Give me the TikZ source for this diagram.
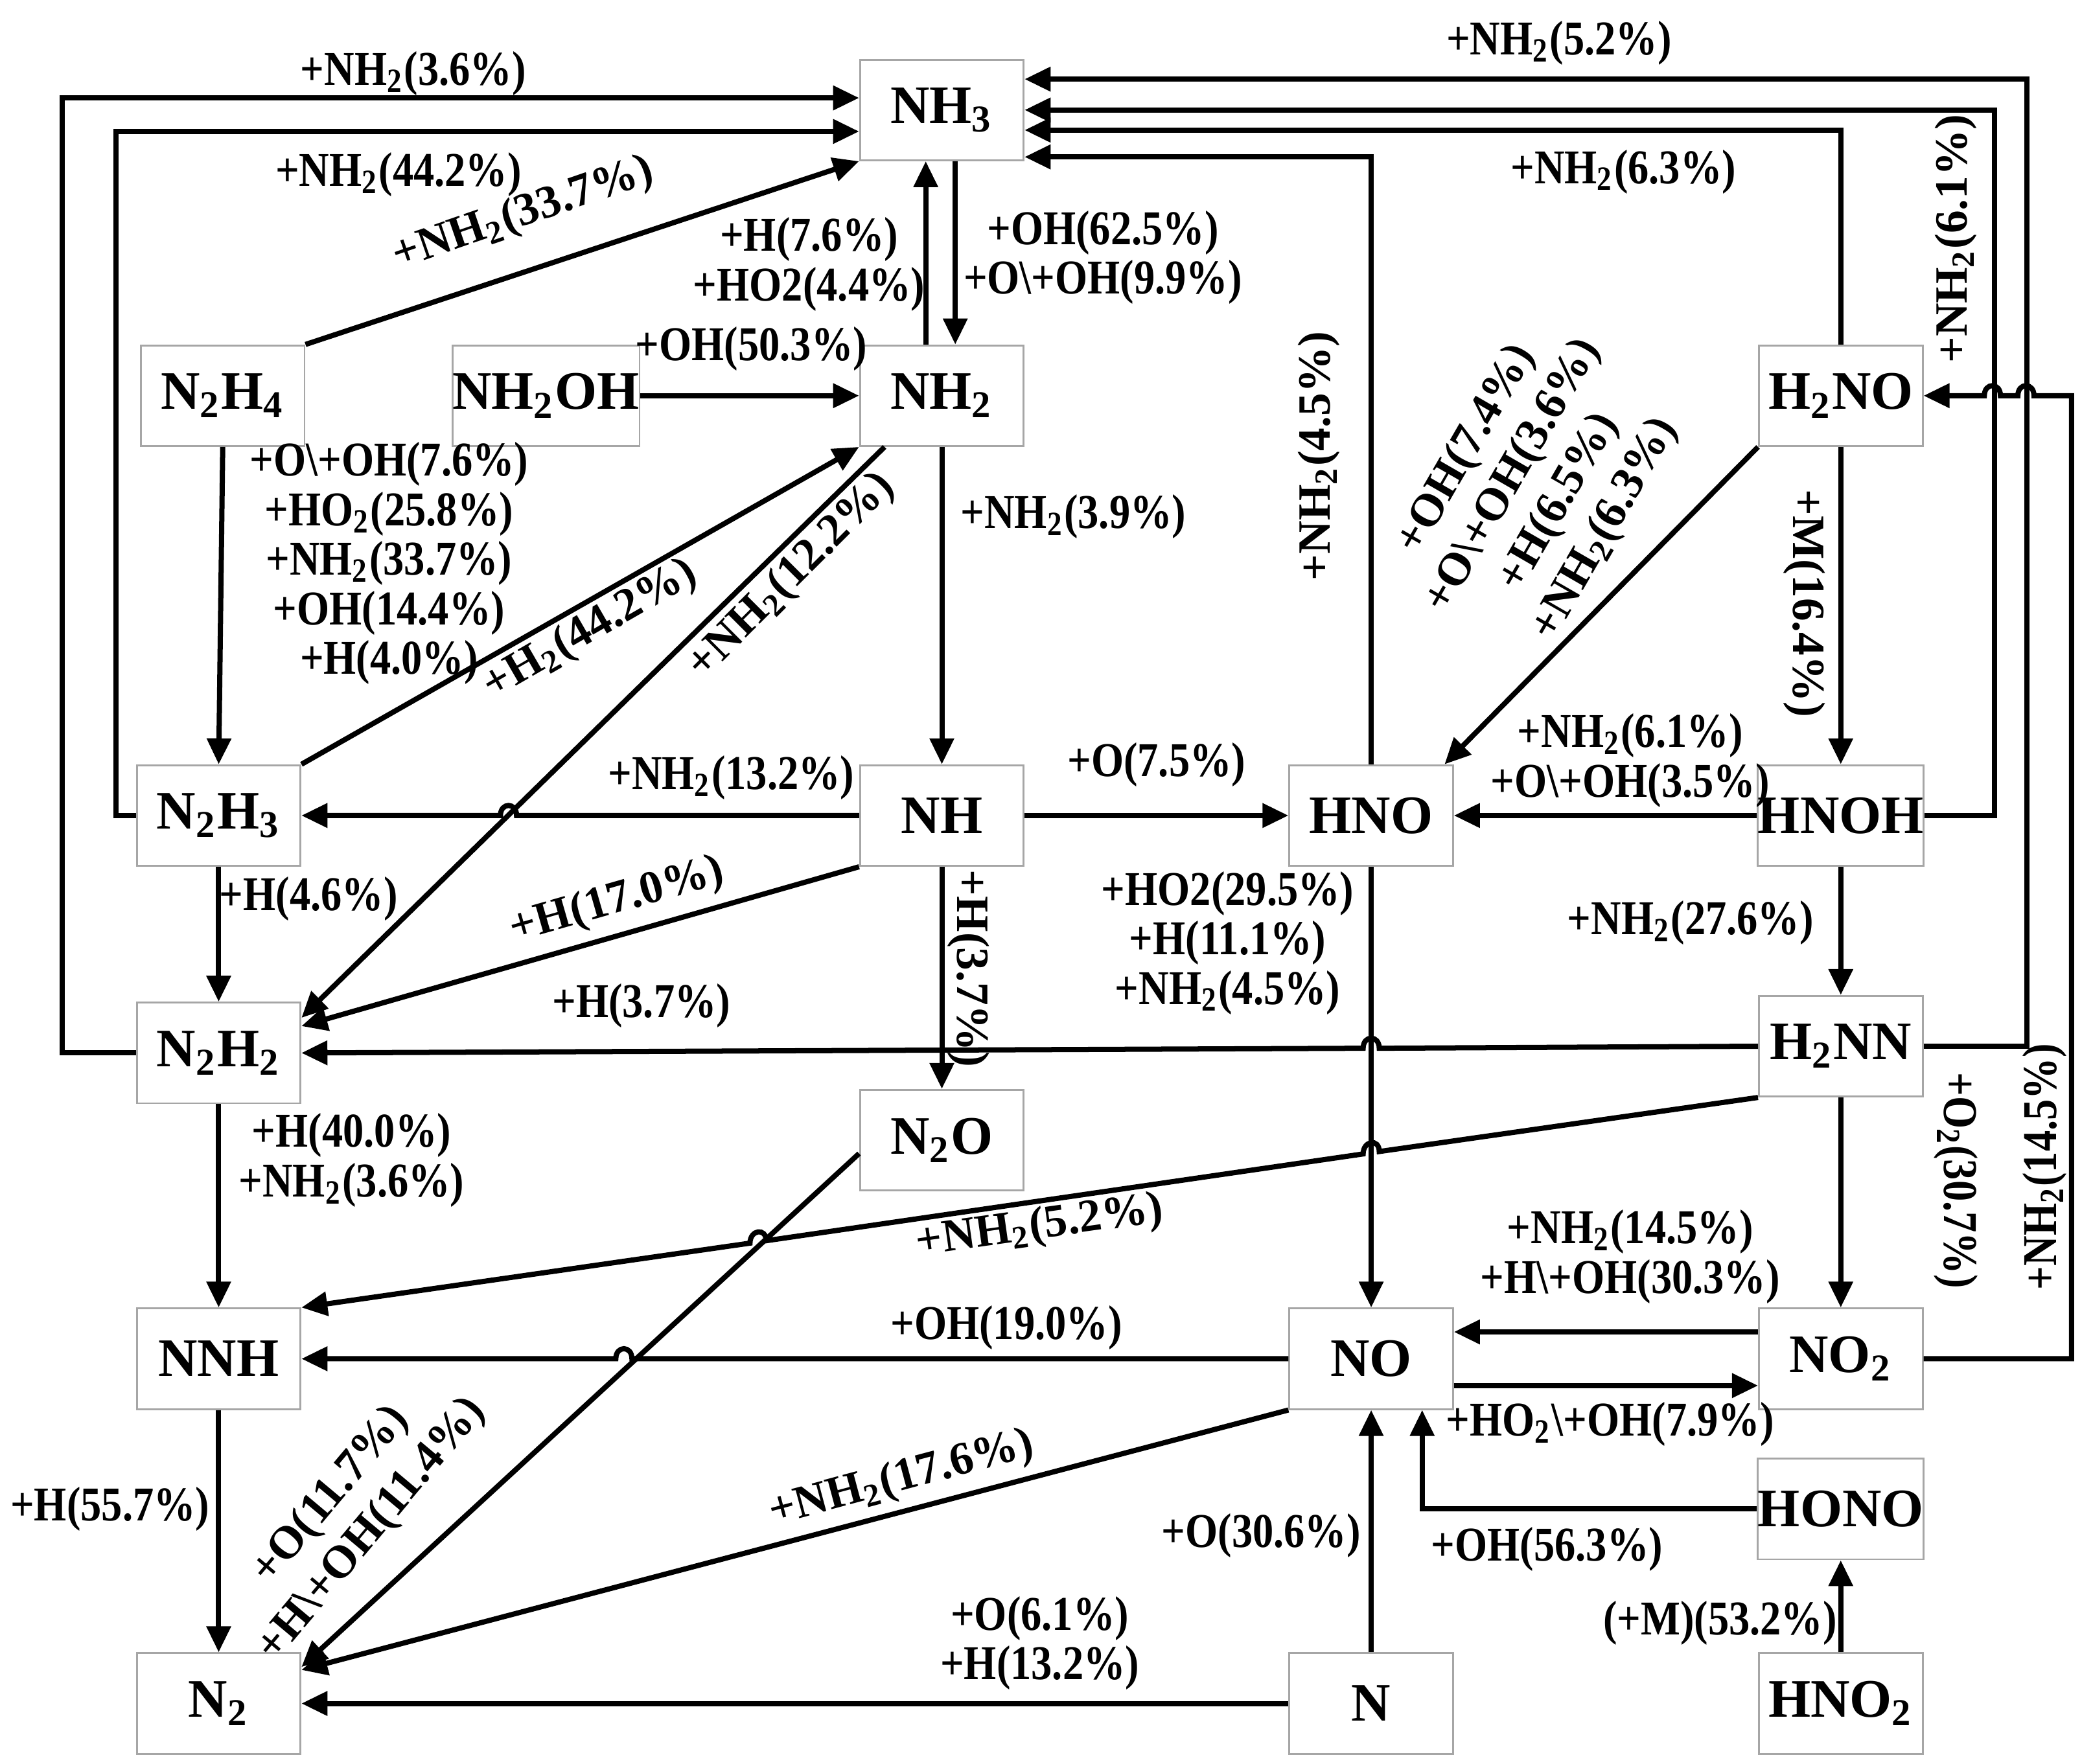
\documentclass[tikz,border=0pt]{standalone}
\usepackage{fontspec}
\setmainfont{Liberation Serif}
\newfontfamily\labfont{Liberation Serif}[FakeStretch=0.86]
\usetikzlibrary{arrows.meta}
\newcommand\sbs[1]{\textsubscript{#1}}
\begin{document}
\begin{tikzpicture}[x=0.1mm,y=-0.1mm,
 box/.style={draw=gray!70,line width=0.4pt,minimum width=12.2mm,minimum height=7.5mm,inner sep=0,font=\fontsize{11.5}{13}\selectfont\bfseries},
 lab/.style={font=\labfont\fontsize{10.3}{10.5}\selectfont\bfseries,align=center,inner sep=0},
 rlab/.style={font=\fontsize{9.8}{11.3}\selectfont\bfseries,align=center,inner sep=0},
 ln/.style={line width=1.1pt},
 arr/.style={line width=1.1pt,-{Triangle[length=5.5pt,width=5pt]}}]
\useasboundingbox (0,0) rectangle (1560,1315);
% nodes
\node[box] (NH3) at (702,82) {NH\sbs{3}};
\node[box] (N2H4) at (166,295) {N\sbs{2}H\sbs{4}};
\node[box,minimum width=13.9mm] (NH2OH) at (407,295) {NH\sbs{2}OH};
\node[box] (NH2) at (702,295) {NH\sbs{2}};
\node[box] (H2NO) at (1372,295) {H\sbs{2}NO};
\node[box] (N2H3) at (163,608) {N\sbs{2}H\sbs{3}};
\node[box] (NH) at (702,608) {NH};
\node[box] (HNO) at (1022,608) {HNO};
\node[box] (HNOH) at (1372,608) {HNOH};
\node[box] (N2H2) at (163,785) {N\sbs{2}H\sbs{2}};
\node[box] (H2NN) at (1372,780) {H\sbs{2}NN};
\node[box] (N2O) at (702,850) {N\sbs{2}O};
\node[box] (NNH) at (163,1013) {NNH};
\node[box] (NO) at (1022,1013) {NO};
\node[box] (NO2) at (1372,1013) {NO\sbs{2}};
\node[box] (HONO) at (1372,1125) {HONO};
\node[box] (N2) at (163,1270) {N\sbs{2}};
\node[box] (N) at (1022,1270) {N};
\node[box] (HNO2) at (1372,1270) {HNO\sbs{2}};
% connectors
\draw[arr] (N2H3.west) -- ++(-15,0) |- ([yshift=-1.6mm]NH3.west);
\draw[arr] (N2H2.west) -- ++(-55,0) |- ([yshift=0.9mm]NH3.west);
\draw[arr] (N2H4.north east) -- (NH3.south west);
\draw[arr] ([xshift=-1.2mm]NH2.north) -- ([xshift=-1.2mm]NH3.south);
\draw[arr] ([xshift=1mm]NH3.south) -- ([xshift=1mm]NH2.north);
\draw[arr] (NH2OH.east) -- (NH2.west);
\draw[arr] (N2H4.south) -- (N2H3.north);
\draw[arr] (N2H3.north east) -- (NH2.south west);
\draw[arr] ([xshift=1.9mm]NH2.south west) -- ([yshift=-1.2mm]N2H2.north east);
\draw[arr] (NH2.south) -- (NH.north);
\draw[arr] (NH.west) -- (385,608) .. controls (385,598) and (373,598) .. (373,608) -- (N2H3.east);
\draw[arr] (NH.south west) -- ([yshift=2mm]N2H2.east);
\draw[arr] (NH.south) -- (N2O.north);
\draw[arr] (NH.east) -- (HNO.west);
\draw[arr] (N2H3.south) -- (N2H2.north);
\draw[arr] (H2NN.west) -- (1028,781.5) .. controls (1028,771.5) and (1016,771.5) .. (1016,781.5) -- (N2H2.east);
\draw[arr] (N2H2.south) -- (NNH.north);
\draw[arr] (H2NN.south west) -- (1028,858.5) .. controls (1028,848.5) and (1016,850.3) .. (1016,860.3) -- (571,925) .. controls (571,915) and (559,916.8) .. (559,926.8) -- (NNH.north east);
\draw[arr] ([yshift=-1mm]N2O.west) -- ([yshift=-1.1mm]N2.north east);
\draw[arr] (NNH.south) -- (N2.north);
\draw[arr] (NO.west) -- (471,1013) .. controls (471,1003) and (459,1003) .. (459,1013) -- (NNH.east);
\draw[arr] (NO.south west) -- ([yshift=2.5mm]N2.east);
\draw[arr] (N.west) -- (N2.east);
\draw[arr] (N.north) -- (NO.south);
\draw[arr] (HNO.south) -- (NO.north);
\draw[arr] (HNO.north) |- ([yshift=-3.5mm]NH3.east);
\draw[arr] (H2NO.north) |- ([yshift=-1.5mm]NH3.east);
\draw[arr] (HNOH.east) -- ++(52,0) |- (NH3.east);
\draw[arr] (H2NN.east) -- ++(77,0) |- ([yshift=2.3mm]NH3.east);
\draw[arr] (NO2.east) -| (1544,295) -- (1516,295) .. controls (1516,285) and (1504,285) .. (1504,295) -- (1491,295) .. controls (1491,285) and (1479,285) .. (1479,295) -- (H2NO.east);
\draw[arr] (H2NO.south west) -- ([xshift=-0.7mm]HNO.north east);
\draw[arr] (H2NO.south) -- (HNOH.north);
\draw[arr] (HNOH.west) -- (HNO.east);
\draw[arr] (HNOH.south) -- (H2NN.north);
\draw[arr] (H2NN.south) -- (NO2.north);
\draw[arr] ([yshift=2mm]NO2.west) -- ([yshift=2mm]NO.east);
\draw[arr] ([yshift=-2mm]NO.east) -- ([yshift=-2mm]NO2.west);
\draw[arr] (HONO.west) -| ([xshift=3.8mm]NO.south);
\draw[arr] (HNO2.north) -- (HONO.south);
% labels
\node[lab] (l1) at (308,55) {+NH\sbs{2}(3.6\%)};
\node[lab] (l2) at (297,130) {+NH\sbs{2}(44.2\%)};
\node[rlab,rotate=19] (l3) at (390,160) {+NH\sbs{2}(33.7\%)};
\node[lab] (l4) at (603,197) {+H(7.6\%)\\+HO2(4.4\%)};
\node[lab] (l5) at (822,192) {+OH(62.5\%)\\+O\textbackslash+OH(9.9\%)};
\node[lab] (l6) at (560,260) {+OH(50.3\%)};
\node[lab] (l7) at (290,420) {+O\textbackslash+OH(7.6\%)\\+HO\sbs{2}(25.8\%)\\+NH\sbs{2}(33.7\%)\\+OH(14.4\%)\\+H(4.0\%)};
\node[rlab,rotate=30] (l8) at (440,470) {+H\sbs{2}(44.2\%)};
\node[rlab,rotate=45] (l9) at (590,430) {+NH\sbs{2}(12.2\%)};
\node[lab] (l10) at (800,385) {+NH\sbs{2}(3.9\%)};
\node[lab] (l11) at (545,580) {+NH\sbs{2}(13.2\%)};
\node[rlab,rotate=16] (l12) at (460,672) {+H(17.0\%)};
\node[rlab,rotate=-90] (l13) at (722,722) {+H(3.7\%)};
\node[lab] (l14) at (862,570) {+O(7.5\%)};
\node[lab] (l15) at (230,670) {+H(4.6\%)};
\node[lab] (l16) at (478,750) {+H(3.7\%)};
\node[lab] (l17) at (262,865) {+H(40.0\%)\\+NH\sbs{2}(3.6\%)};
\node[rlab,rotate=8] (l18) at (775,915) {+NH\sbs{2}(5.2\%)};
\node[rlab,rotate=50] (l19) at (262,1128) {+O(11.7\%)\\+H\textbackslash+OH(11.4\%)};
\node[lab] (l20) at (82,1125) {+H(55.7\%)};
\node[lab] (l21) at (750,990) {+OH(19.0\%)};
\node[rlab,rotate=15] (l22) at (672,1103) {+NH\sbs{2}(17.6\%)};
\node[lab] (l23) at (775,1225) {+O(6.1\%)\\+H(13.2\%)};
\node[lab] (l24) at (940,1145) {+O(30.6\%)};
\node[lab] (l25) at (915,703) {+HO2(29.5\%)\\+H(11.1\%)\\+NH\sbs{2}(4.5\%)};
\node[rlab,rotate=90] (l26) at (983,340) {+NH\sbs{2}(4.5\%)};
\node[lab] (l27) at (1210,128) {+NH\sbs{2}(6.3\%)};
\node[lab] (l28) at (1162,32) {+NH\sbs{2}(5.2\%)};
\node[rlab,rotate=90] (l29) at (1458,178) {+NH\sbs{2}(6.1\%)};
\node[rlab,rotate=60] (l30) at (1145,365) {+OH(7.4\%)\\+O\textbackslash+OH(3.6\%)\\+H(6.5\%)\\+NH\sbs{2}(6.3\%)};
\node[rlab,rotate=-90] (l31) at (1345,450) {+M(16.4\%)};
\node[lab] (l32) at (1215,567) {+NH\sbs{2}(6.1\%)\\+O\textbackslash+OH(3.5\%)};
\node[lab] (l33) at (1260,688) {+NH\sbs{2}(27.6\%)};
\node[lab,rotate=-90] (l34) at (1458,880) {+O\sbs{2}(30.7\%)};
\node[lab,rotate=90] (l35) at (1524,870) {+NH\sbs{2}(14.5\%)};
\node[lab] (l36) at (1215,937) {+NH\sbs{2}(14.5\%)\\+H\textbackslash+OH(30.3\%)};
\node[lab] (l37) at (1200,1062) {+HO\sbs{2}\textbackslash+OH(7.9\%)};
\node[lab] (l38) at (1153,1155) {+OH(56.3\%)};
\node[lab] (l39) at (1282,1210) {(+M)(53.2\%)};
\end{tikzpicture}
\end{document}
